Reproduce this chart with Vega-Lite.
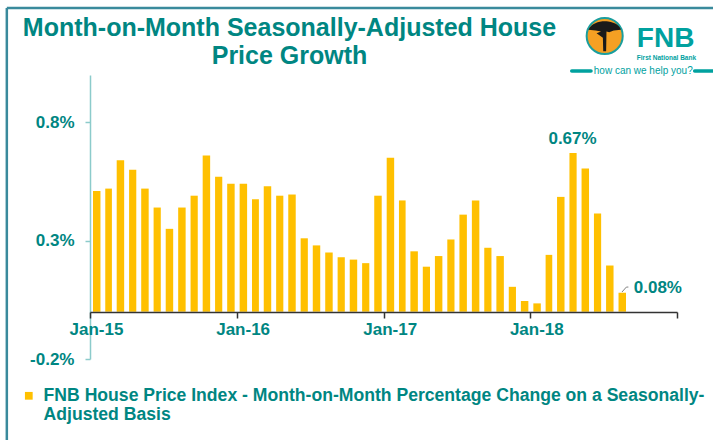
{
  "$schema": "https://vega.github.io/schema/vega-lite/v6.json",
  "width": 587,
  "height": 284,
  "autosize": {"type": "none"},
  "padding": {"left": 90, "top": 75, "right": 36, "bottom": 81},
  "background": "white",
  "config": {
    "view": {"stroke": null},
    "font": "Liberation Sans",
    "axis": {"grid": false, "title": null}
  },
  "title": {
    "text": ["Month-on-Month Seasonally-Adjusted House", "Price Growth"],
    "font": "Liberation Sans",
    "fontSize": 25,
    "fontWeight": "bold",
    "color": "#008682",
    "anchor": "middle",
    "frame": "group",
    "dx": -94,
    "dy": 68,
    "lineHeight": 28,
    "offset": 6
  },
  "data": {
    "values": [
      {"month": "2015-01-01T00:00:00", "value": 0.51},
      {"month": "2015-02-01T00:00:00", "value": 0.52},
      {"month": "2015-03-01T00:00:00", "value": 0.64},
      {"month": "2015-04-01T00:00:00", "value": 0.60},
      {"month": "2015-05-01T00:00:00", "value": 0.52},
      {"month": "2015-06-01T00:00:00", "value": 0.44},
      {"month": "2015-07-01T00:00:00", "value": 0.35},
      {"month": "2015-08-01T00:00:00", "value": 0.44},
      {"month": "2015-09-01T00:00:00", "value": 0.49},
      {"month": "2015-10-01T00:00:00", "value": 0.66},
      {"month": "2015-11-01T00:00:00", "value": 0.57},
      {"month": "2015-12-01T00:00:00", "value": 0.54},
      {"month": "2016-01-01T00:00:00", "value": 0.54},
      {"month": "2016-02-01T00:00:00", "value": 0.475},
      {"month": "2016-03-01T00:00:00", "value": 0.53},
      {"month": "2016-04-01T00:00:00", "value": 0.49},
      {"month": "2016-05-01T00:00:00", "value": 0.495},
      {"month": "2016-06-01T00:00:00", "value": 0.31},
      {"month": "2016-07-01T00:00:00", "value": 0.28},
      {"month": "2016-08-01T00:00:00", "value": 0.25},
      {"month": "2016-09-01T00:00:00", "value": 0.23},
      {"month": "2016-10-01T00:00:00", "value": 0.22},
      {"month": "2016-11-01T00:00:00", "value": 0.205},
      {"month": "2016-12-01T00:00:00", "value": 0.49},
      {"month": "2017-01-01T00:00:00", "value": 0.65},
      {"month": "2017-02-01T00:00:00", "value": 0.47},
      {"month": "2017-03-01T00:00:00", "value": 0.255},
      {"month": "2017-04-01T00:00:00", "value": 0.19},
      {"month": "2017-05-01T00:00:00", "value": 0.235},
      {"month": "2017-06-01T00:00:00", "value": 0.305},
      {"month": "2017-07-01T00:00:00", "value": 0.41},
      {"month": "2017-08-01T00:00:00", "value": 0.47},
      {"month": "2017-09-01T00:00:00", "value": 0.27},
      {"month": "2017-10-01T00:00:00", "value": 0.235},
      {"month": "2017-11-01T00:00:00", "value": 0.105},
      {"month": "2017-12-01T00:00:00", "value": 0.045},
      {"month": "2018-01-01T00:00:00", "value": 0.035},
      {"month": "2018-02-01T00:00:00", "value": 0.24},
      {"month": "2018-03-01T00:00:00", "value": 0.485},
      {"month": "2018-04-01T00:00:00", "value": 0.67},
      {"month": "2018-05-01T00:00:00", "value": 0.605},
      {"month": "2018-06-01T00:00:00", "value": 0.415},
      {"month": "2018-07-01T00:00:00", "value": 0.195},
      {"month": "2018-08-01T00:00:00", "value": 0.08}
    ]
  },
  "layer": [
    {
      "mark": {"type": "bar", "width": {"band": 0.68}},
      "encoding": {
        "x": {
          "field": "month",
          "timeUnit": "yearmonth",
          "type": "temporal",
          "scale": {
            "domain": [{"year": 2015, "month": 1, "date": 1}, {"year": 2019, "month": 1, "date": 1}],
            "nice": false
          },
          "axis": {
            "title": null,
            "values": [
              {"year": 2015, "month": 1, "date": 1},
              {"year": 2016, "month": 1, "date": 1},
              {"year": 2017, "month": 1, "date": 1},
              {"year": 2018, "month": 1, "date": 1},
              {"year": 2019, "month": 1, "date": 1}
            ],
            "labelExpr": "year(datum.value) >= 2019 ? '' : timeFormat(datum.value, '%b-%y')",
            "labelOffset": 6,
            "labelAlign": "center",
            "labelFlush": false,
            "labelOverlap": false,
            "labelColor": "#008682",
            "labelFontSize": 17,
            "labelFontWeight": "bold",
            "labelPadding": 3,
            "offset": -47,
            "domainColor": "#333333",
            "domainWidth": 1.5,
            "tickColor": "#333333",
            "tickWidth": 1.5,
            "tickSize": 6,
            "zindex": 1
          }
        },
        "y": {
          "field": "value",
          "type": "quantitative",
          "scale": {"domain": [-0.2, 1.0], "nice": false},
          "axis": {
            "title": null,
            "values": [-0.2, 0.3, 0.8],
            "labelExpr": "(datum.value < 0 ? '-' : '') + format(abs(datum.value), '.1f') + '%'",
            "labelColor": "#008682",
            "labelFontSize": 17,
            "labelFontWeight": "bold",
            "labelPadding": 11,
            "domainColor": "#8CCBCB",
            "domainWidth": 1.5,
            "tickColor": "#8CCBCB",
            "tickWidth": 1.5,
            "tickSize": 5
          }
        },
        "color": {
          "datum": "FNB House Price Index - Month-on-Month Percentage Change on a Seasonally-Adjusted Basis",
          "type": "nominal",
          "scale": {"range": ["#FFC000"]},
          "legend": {
            "title": null,
            "orient": "none",
            "legendX": -70,
            "legendY": 312,
            "symbolType": "square",
            "symbolSize": 60,
            "symbolStrokeWidth": 0,
            "symbolOpacity": 1,
            "labelFont": "Liberation Sans",
            "labelFontSize": 17.6,
            "labelFontWeight": "bold",
            "labelColor": "#008682",
            "labelLimit": 700,
            "labelOffset": 6,
            "labelExpr": "['FNB House Price Index - Month-on-Month Percentage Change on a Seasonally-', 'Adjusted Basis']"
          }
        }
      }
    },
    {
      "transform": [{"filter": "datum.value == 0.67"}, {"calculate": "datum.value + '%'", "as": "label"}],
      "mark": {"type": "text", "dy": -14, "fontSize": 17, "fontWeight": "bold", "color": "#008682", "baseline": "middle", "align": "center"},
      "encoding": {
        "x": {"field": "month", "timeUnit": "yearmonth", "type": "temporal", "bandPosition": 0.5},
        "y": {"field": "value", "type": "quantitative"},
        "text": {"field": "label"}
      }
    },
    {
      "transform": [{"filter": "datum.value == 0.08"}, {"calculate": "datum.value + '%'", "as": "label"}],
      "mark": {"type": "text", "dx": 12, "dy": -5, "fontSize": 17, "fontWeight": "bold", "color": "#008682", "baseline": "middle", "align": "left"},
      "encoding": {
        "x": {"field": "month", "timeUnit": "yearmonth", "type": "temporal", "bandPosition": 0.5},
        "y": {"field": "value", "type": "quantitative"},
        "text": {"field": "label"}
      }
    },
    {
      "data": {"values": [{}]},
      "mark": {"type": "rule", "color": "#808080", "strokeWidth": 1},
      "encoding": {
        "x": {"datum": {"year": 2018, "month": 8, "date": 17}, "type": "temporal"},
        "x2": {"datum": {"year": 2018, "month": 8, "date": 28}},
        "y": {"datum": 0.083, "type": "quantitative"},
        "y2": {"datum": 0.104}
      }
    },
    {
      "data": {"values": [{}]},
      "mark": {"type": "rule", "color": "#808080", "strokeWidth": 1},
      "encoding": {
        "x": {"datum": {"year": 2018, "month": 8, "date": 28}, "type": "temporal"},
        "x2": {"datum": {"year": 2018, "month": 9, "date": 2}},
        "y": {"datum": 0.104, "type": "quantitative"}
      }
    },
    {
      "data": {"values": [{}]},
      "mark": {"type": "rule", "color": "#3A8A9C", "strokeWidth": 2.5},
      "encoding": {
        "x": {"datum": {"year": 2014, "month": 6, "date": 8}, "type": "temporal"},
        "y": {"datum": 1.283, "type": "quantitative"},
        "y2": {"datum": -0.7}
      }
    },
    {
      "data": {"values": [{}]},
      "mark": {"type": "rule", "color": "#3A8A9C", "strokeWidth": 2.5},
      "encoding": {
        "x": {"datum": {"year": 2014, "month": 6, "date": 8}, "type": "temporal"},
        "x2": {"datum": {"year": 2019, "month": 5, "date": 1}},
        "y": {"datum": 1.283, "type": "quantitative"}
      }
    },
    {
      "data": {"values": [{}]},
      "mark": {"type": "point", "filled": true, "shape": "circle", "size": 1300, "color": "#F5A023", "stroke": "#1A9E9E", "strokeWidth": 2, "opacity": 1},
      "encoding": {
        "x": {"datum": {"year": 2018, "month": 7, "date": 5}, "type": "temporal"},
        "y": {"datum": 1.165, "type": "quantitative"}
      }
    },
    {
      "data": {"values": [{}]},
      "mark": {"type": "point", "filled": true, "size": 1300, "color": "#1A1A1A", "opacity": 1,
        "shape": "M-0.9,-0.35 C-0.7,-0.75 -0.2,-0.85 0.2,-0.8 C0.6,-0.75 0.85,-0.55 0.9,-0.35 L0.5,-0.3 L0.25,-0.2 L0.1,-0.25 L0.08,0.85 L-0.08,0.85 L-0.1,0.1 L-0.45,-0.15 L-0.2,-0.25 L-0.5,-0.3 Z"},
      "encoding": {
        "x": {"datum": {"year": 2018, "month": 7, "date": 5}, "type": "temporal"},
        "y": {"datum": 1.165, "type": "quantitative"}
      }
    },
    {
      "data": {"values": [{}]},
      "mark": {"type": "text", "text": "FNB", "fontSize": 28, "fontWeight": "bold", "color": "#00A19F", "align": "left", "baseline": "alphabetic"},
      "encoding": {
        "x": {"datum": {"year": 2018, "month": 9, "date": 23}, "type": "temporal"},
        "y": {"datum": 1.118, "type": "quantitative"}
      }
    },
    {
      "data": {"values": [{}]},
      "mark": {"type": "text", "text": "First National Bank", "fontSize": 6.5, "fontWeight": "bold", "color": "#00A19F", "align": "left", "baseline": "middle"},
      "encoding": {
        "x": {"datum": {"year": 2018, "month": 9, "date": 23}, "type": "temporal"},
        "y": {"datum": 1.072, "type": "quantitative"}
      }
    },
    {
      "data": {"values": [{}]},
      "mark": {"type": "text", "text": "how can we help you?", "fontSize": 10, "color": "#00A19F", "align": "center", "baseline": "middle"},
      "encoding": {
        "x": {"datum": {"year": 2018, "month": 10, "date": 9}, "type": "temporal"},
        "y": {"datum": 1.017, "type": "quantitative"}
      }
    },
    {
      "data": {"values": [{}]},
      "mark": {"type": "rule", "color": "#00A19F", "strokeWidth": 3.5, "strokeCap": "round"},
      "encoding": {
        "x": {"datum": {"year": 2018, "month": 4, "date": 14}, "type": "temporal"},
        "x2": {"datum": {"year": 2018, "month": 6, "date": 1}},
        "y": {"datum": 1.017, "type": "quantitative"}
      }
    },
    {
      "data": {"values": [{}]},
      "mark": {"type": "rule", "color": "#00A19F", "strokeWidth": 3.5, "strokeCap": "round"},
      "encoding": {
        "x": {"datum": {"year": 2019, "month": 2, "date": 14}, "type": "temporal"},
        "x2": {"datum": {"year": 2019, "month": 4, "date": 5}},
        "y": {"datum": 1.017, "type": "quantitative"}
      }
    }
  ]
}
